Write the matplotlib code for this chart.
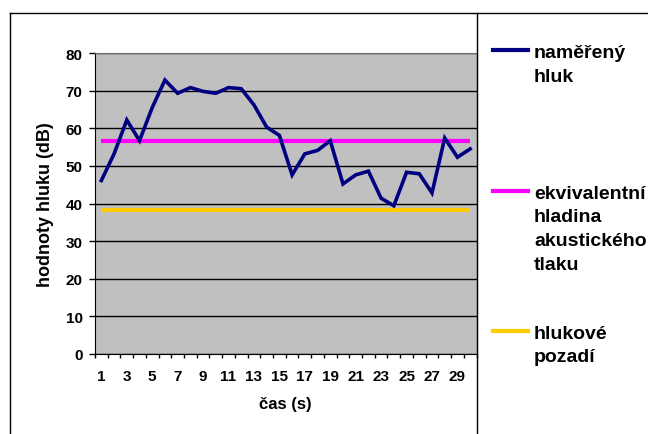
import matplotlib
matplotlib.use("Agg")
import matplotlib.pyplot as plt
from matplotlib.lines import Line2D

plt.rcParams['font.family'] = ['Liberation Sans', 'DejaVu Sans']
plt.rcParams['font.weight'] = 'bold'

# measured noise per second, equivalent level and background
cas = list(range(1, 31))
hluk = [46.1, 53.2, 62.2, 56.7, 65.5, 72.8, 69.3, 70.8, 69.8, 69.3,
        70.8, 70.5, 66.2, 60.3, 58.1, 47.6, 53.2, 54.1, 56.7, 45.2,
        47.6, 48.6, 41.4, 39.4, 48.3, 47.9, 42.8, 57.4, 52.3, 54.5]
ekvivalent = 56.6
pozadi = 38.4

y_ticks = list(range(0, 81, 10))
x_labels = cas[::2]

legend_items = [
    ("#000080", ["naměřený", "hluk"]),
    ("#FF00FF", ["ekvivalentní", "hladina", "akustického", "tlaku"]),
    ("#FFCC00", ["hlukové", "pozadí"]),
]

W, H = 648, 435
fig = plt.figure(figsize=(W / 100, H / 100), dpi=100)
ax = fig.add_axes([95 / W, (H - 355) / H, 381.5 / W, 301 / H])
ax.set_facecolor("#C0C0C0")

ax.plot(cas, hluk, color="#000080", lw=2.6, solid_joinstyle="miter", zorder=4)
ax.hlines(ekvivalent, cas[0], cas[-1], color="#FF00FF", lw=3, zorder=3)
ax.hlines(pozadi, cas[0], cas[-1], color="#FFCC00", lw=3, zorder=3)

ax.set_xlim(0.5, len(cas) + 0.5)
ax.set_ylim(0, 80)
ax.set_yticks(y_ticks)
ax.yaxis.grid(True, color="black", lw=1)
ax.set_axisbelow(True)

# ticks sit between categories, labels under every other category
ax.set_xticks([c - 0.5 for c in cas] + [cas[-1] + 0.5])
ax.set_xticklabels([])
ax.set_xticks(x_labels, minor=True)
ax.set_xticklabels([str(v) for v in x_labels], minor=True)
ax.tick_params(axis="x", which="major", direction="out", length=3, width=1)
ax.tick_params(axis="x", which="minor", length=0, pad=10.5, labelsize=11)
ax.tick_params(axis="y", direction="out", length=4, width=1, pad=5, labelsize=11)

for s in ("left", "bottom"):
    ax.spines[s].set_color("black")
for s in ("top", "right"):
    ax.spines[s].set_color("#707070")

ax.set_xlabel("čas (s)", fontsize=12, fontweight="bold", labelpad=10)
ax.set_ylabel("hodnoty hluku (dB)", fontsize=13, fontweight="bold", labelpad=8)

# chart frame
frame = dict(color="black", lw=1, transform=fig.transFigure)
fig.add_artist(Line2D([10 / W, 10 / W], [0, 1 - 14 / H], **frame))
fig.add_artist(Line2D([10 / W, 1], [1 - 14 / H, 1 - 14 / H], **frame))
fig.add_artist(Line2D([477 / W, 477 / W], [0, 1 - 14 / H], **frame))

# legend
baselines = [58, 199, 339]
for (color, lines), base in zip(legend_items, baselines):
    y_line = base - 7
    fig.add_artist(Line2D([493 / W, 528 / W], [1 - y_line / H] * 2,
                          color=color, lw=3, transform=fig.transFigure))
    for i, t in enumerate(lines):
        fig.text(534 / W, 1 - (base + i * 23.5) / H, t, fontsize=14,
                 fontweight="bold", va="baseline", ha="left")

fig.savefig("out.png", dpi=100)
